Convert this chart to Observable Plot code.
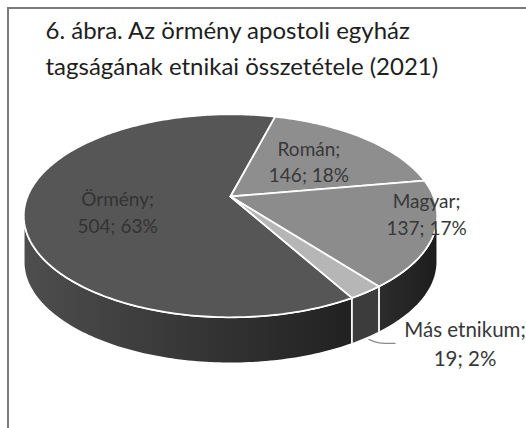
<!DOCTYPE html>
<html>
<head>
<meta charset="utf-8">
<script src="https://cdn.jsdelivr.net/npm/d3@7"></script>
<script src="https://cdn.jsdelivr.net/npm/@observablehq/plot@0.6"></script>
<style>
  html, body { margin: 0; padding: 0; background: #fff; overflow: hidden; }
  #wrap { position: relative; width: 526px; height: 428px; }
  #frame { position: absolute; left: 7px; top: 7px; width: 530px; height: 430px;
           border-left: 2px solid #7a7a7a; border-top: 2px solid #7a7a7a; box-sizing: border-box; }
  #chart { position: absolute; left: 0; top: 0; }
</style>
</head>
<body>
<div id="wrap"><div id="chart"></div><div id="frame"></div></div>
<script>
// ---- data ----
const categories = ["Örmény", "Román", "Magyar", "Más etnikum"];
const values = [504, 146, 137, 19];
const percents = [63, 18, 17, 2];
const titleLines = ["6. ábra. Az örmény apostoli egyház", "tagságának etnikai összetétele (2021)"];

// ---- layout / style (not data) ----
const W = 526, H = 428;
const firstSliceAngle = 150;            // degrees, clockwise from 12 o'clock
const cx = 230, cy = 196, K = 203, depth = 46;
const tiltS = 0.482, tiltC = 0.876, dist = 4.61;   // perspective
const topFill = {"Örmény": "#565656", "Román": "#8e8e8e", "Magyar": "#8c8c8c", "Más etnikum": "#b6b6b6"};
const sideFill = {"Örmény": "url(#gOrm)", "Román": "#2a2a2a", "Magyar": "url(#gMag)", "Más etnikum": "#3c3c3c"};
const labelLayout = {
  "Örmény": {dTheta: -7.5, r: 0.56, color: "#333333", size: 19},
  "Román": {dTheta: -1, r: 0.57, color: "#383838", size: 19},
  "Magyar": {dTheta: -11, r: 0.95, color: "#383838", size: 19},
  "Más etnikum": {outside: true, dx: 99, dy: 4, color: "#383838", size: 20.5}
};

function P(thetaDeg, r = 1, drop = 0) {
  const t = thetaDeg * Math.PI / 180;
  const sx = r * Math.sin(t), cz = r * Math.cos(t);
  const f = dist / (dist + cz * tiltC);
  return {x: cx + K * sx * f, y: cy - K * tiltS * cz * f + drop};
}

const total = d3.sum(values);
let acc = firstSliceAngle;
const slices = categories.map((c, i) => {
  const a0 = acc, a1 = acc + values[i] / total * 360;
  acc = a1;
  return {cat: c, value: values[i], pct: percents[i], a0, a1};
});

function arc(a0, a1, r, drop) {
  const n = Math.max(2, Math.ceil(Math.abs(a1 - a0) / 1));
  return d3.range(n + 1).map(k => P(a0 + (a1 - a0) * k / n, r, drop));
}

// visible side range (silhouette tangents)
const tang = Math.acos(-tiltC / dist) * 180 / Math.PI; // ~101
const visLo = tang, visHi = 360 - tang;

const marks = [];
// sides
for (const s of slices) {
  for (const shift of [0, 360, -360]) {
    const lo = Math.max(s.a0 - shift, visLo), hi = Math.min(s.a1 - shift, visHi);
    if (hi > lo) {
      const pts = [...arc(lo, hi, 1, 0), ...arc(hi, lo, 1, depth)];
      marks.push(Plot.line(pts, {x: "x", y: "y", curve: "linear-closed",
        fill: sideFill[s.cat], stroke: "white", strokeWidth: 1.6, strokeLinejoin: "round"}));
    }
  }
}
// tops
for (const s of slices) {
  const pts = [P(0, 0, 0), ...arc(s.a0, s.a1, 1, 0)];
  marks.push(Plot.line(pts, {x: "x", y: "y", curve: "linear-closed",
    fill: topFill[s.cat], stroke: "white", strokeWidth: 1.8, strokeLinejoin: "round"}));
}
// labels
const labelData = [];
const leader = [];
for (const s of slices) {
  const L = labelLayout[s.cat];
  const mid = (s.a0 + s.a1) / 2;
  const text = `${s.cat};\n${s.value}; ${s.pct}%`;
  if (L.outside) {
    const b = P(mid, 1, depth);
    labelData.push({x: b.x + L.dx, y: b.y + L.dy, text, color: L.color, size: L.size, lh: 1.42});
    leader.push({x: b.x + 3, y: b.y + 1}, {x: b.x + 12, y: b.y + 5}, {x: b.x + 29, y: b.y + 5});
  } else {
    const p = P(mid + L.dTheta, L.r, 0);
    labelData.push({x: p.x, y: p.y, text, color: L.color, size: L.size, lh: 1.38});
  }
}
marks.push(Plot.line(leader, {x: "x", y: "y", stroke: "#8a8a8a", strokeWidth: 1.2, curve: "basis"}));
for (const l of labelData) {
  marks.push(Plot.text([l], {x: "x", y: "y", text: "text", fill: l.color, fontSize: l.size,
    lineAnchor: "middle", lineHeight: l.lh, textAnchor: "middle"}));
}
// title (left-aligned block)
marks.push(Plot.text([titleLines.join("\n")], {frameAnchor: "top-left", dx: 45, dy: 13.5, lineAnchor: "top",
  lineHeight: 1.49, fontSize: 24, fill: "#1e1e1e", textAnchor: "start"}));

const chart = Plot.plot({
  width: W, height: H, margin: 0,
  style: {fontFamily: "Lato, 'DejaVu Sans', sans-serif", background: "white"},
  x: {domain: [0, W], range: [0, W], axis: null},
  y: {domain: [0, H], range: [0, H], axis: null},
  marks
});

const defs = d3.select(chart).insert("defs", ":first-child");
const g1 = defs.append("linearGradient").attr("id", "gOrm").attr("gradientUnits", "userSpaceOnUse")
  .attr("x1", 22).attr("x2", 360).attr("y1", 0).attr("y2", 0);
g1.append("stop").attr("offset", 0).attr("stop-color", "#4e4e4e");
g1.append("stop").attr("offset", 0.5).attr("stop-color", "#363636");
g1.append("stop").attr("offset", 1).attr("stop-color", "#202020");
const g2 = defs.append("linearGradient").attr("id", "gMag").attr("gradientUnits", "userSpaceOnUse")
  .attr("x1", 380).attr("x2", 440).attr("y1", 0).attr("y2", 0);
g2.append("stop").attr("offset", 0).attr("stop-color", "#2c2c2c");
g2.append("stop").attr("offset", 1).attr("stop-color", "#1c1c1c");

document.getElementById("chart").appendChild(chart);
</script>
</body>
</html>
